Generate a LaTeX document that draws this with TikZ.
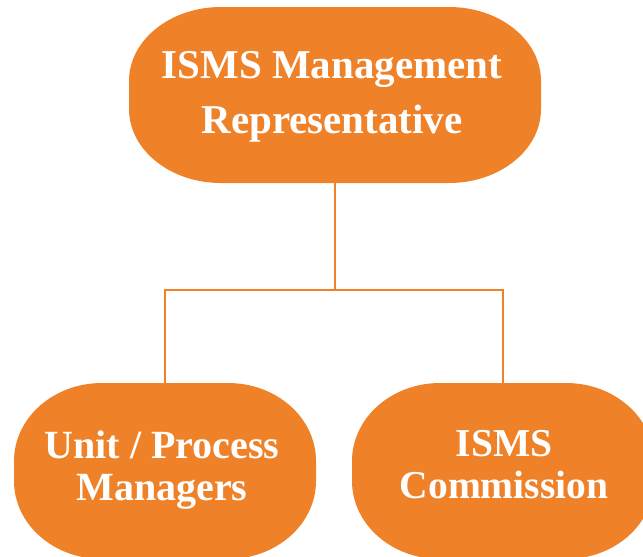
\documentclass[tikz,border=0pt]{standalone}
\usepackage{fontspec}
\setmainfont{Liberation Serif}
\usetikzlibrary{backgrounds}
\definecolor{boxorange}{RGB}{239,130,41}
% Fill a rectangle whose corners are quarter ellipses, fitted to a node
% #1 node name, #2 x radius, #3 y radius
\newcommand{\ovalbox}[3]{%
  \fill[boxorange]
    ([xshift=#2pt]#1.north west) -- ([xshift=-#2pt]#1.north east)
    arc[start angle=90,end angle=0,x radius=#2pt,y radius=#3pt]
    -- ([yshift=#3pt]#1.south east)
    arc[start angle=0,end angle=-90,x radius=#2pt,y radius=#3pt]
    -- ([xshift=#2pt]#1.south west)
    arc[start angle=270,end angle=180,x radius=#2pt,y radius=#3pt]
    -- ([yshift=-#3pt]#1.north west)
    arc[start angle=180,end angle=90,x radius=#2pt,y radius=#3pt]
    -- cycle;}
% line strut so every text line has the same height and depth
\newcommand{\lnstrut}{\vphantom{Mgp}}
\begin{document}
\begin{tikzpicture}[x=1pt,y=-1pt,
  shapebox/.style={inner sep=0pt,outer sep=0pt},
  boxtext/.style={inner sep=0pt,outer sep=0pt,text=white,align=center},
  link/.style={draw=boxorange,line width=2pt}]
\useasboundingbox (0,0) rectangle (643,557);
\clip (0,0) rectangle (643,557);

% box outlines
\node[shapebox,minimum width=412pt,minimum height=176pt] (rep) at (335,95) {};
\node[shapebox,minimum width=302pt,minimum height=176pt] (unit) at (165,471) {};
\node[shapebox,minimum width=302pt,minimum height=176pt] (comm) at (503,471) {};

% box texts
\node[boxtext,font=\bfseries\fontsize{41}{55}\selectfont] (reptext) at (332,97)
  {ISMS Management\lnstrut\\Representative\lnstrut};
\node[boxtext,font=\bfseries\fontsize{40}{42}\selectfont] (unittext) at (162,470)
  {Unit / Process\lnstrut\\Managers\lnstrut};
\node[boxtext,font=\bfseries\fontsize{39.5}{42}\selectfont] (commtext) at (504,469)
  {ISMS\lnstrut\\Commission\lnstrut};

\begin{scope}[on background layer]
  \ovalbox{rep}{92}{74}
  \ovalbox{unit}{88}{78}
  \ovalbox{comm}{88}{78}
\end{scope}

\coordinate (split) at (335,290);
\draw[link] (rep.south) -- (split);
\draw[link] (unit.north) |- (split) -| (comm.north);
\end{tikzpicture}
\end{document}
